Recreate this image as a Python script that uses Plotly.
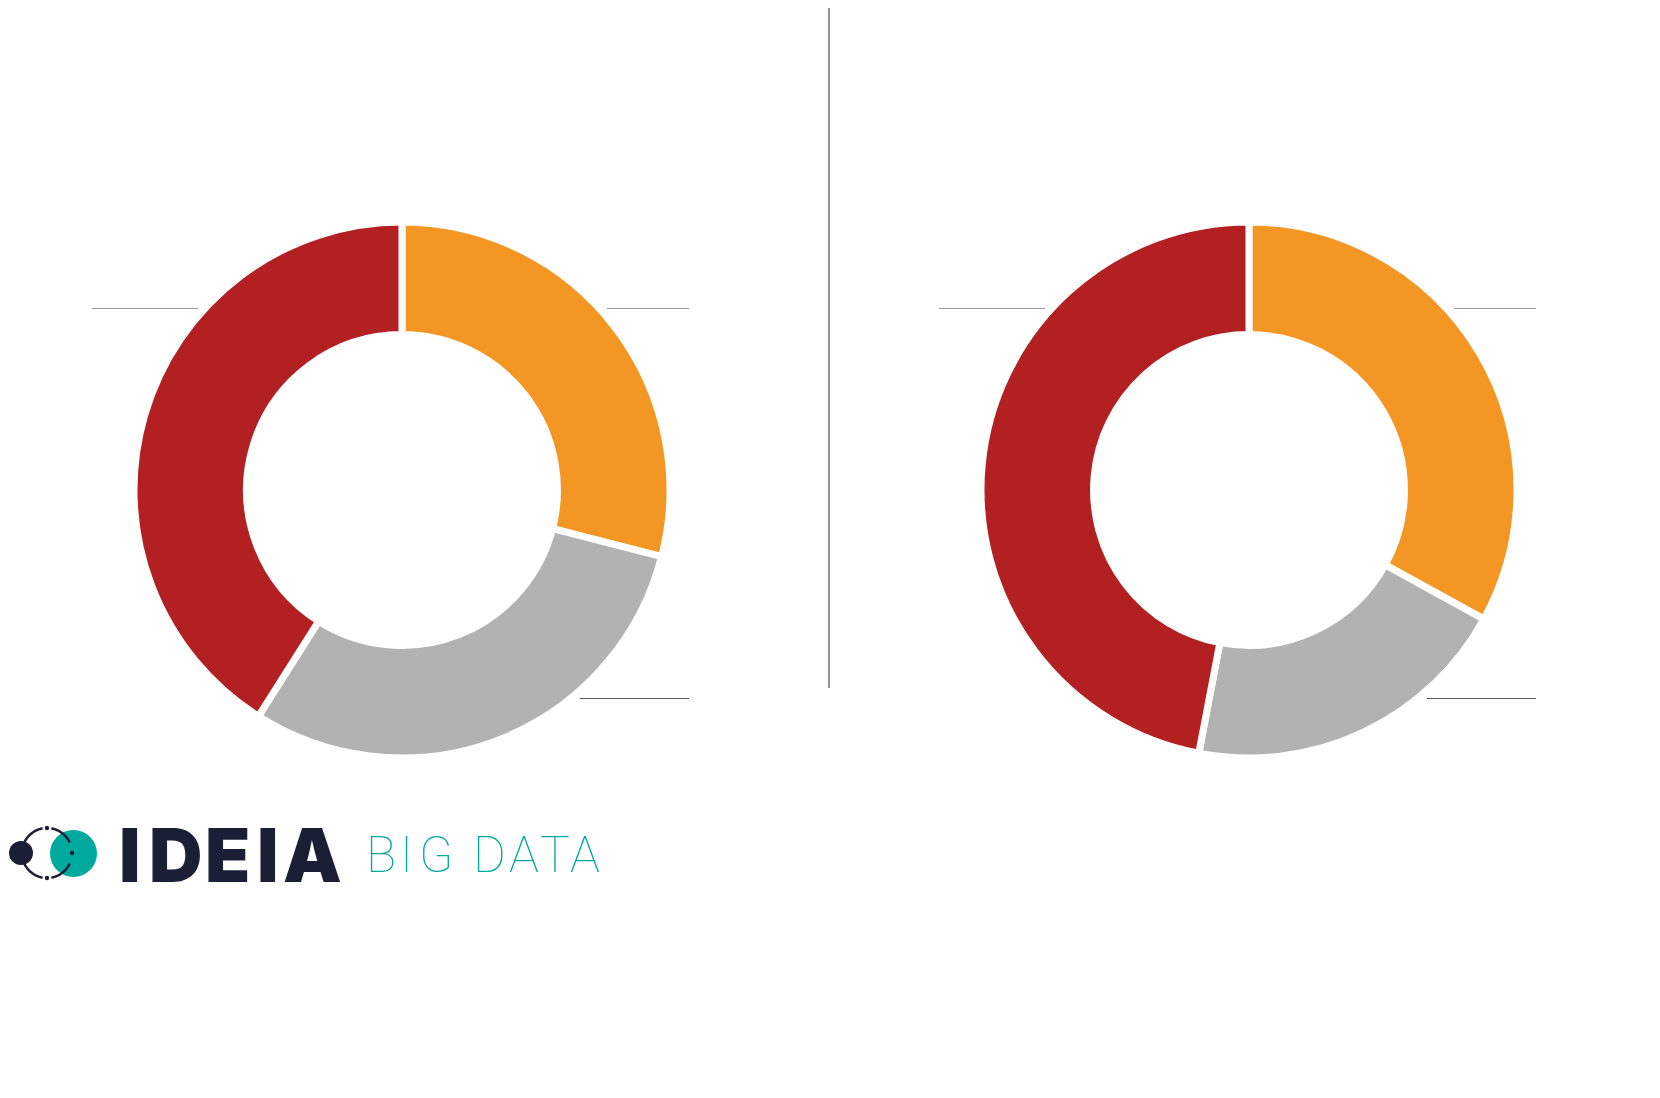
import plotly.graph_objects as go
import numpy as np

W, H = 1660, 1098
OFF = 8  # page body margin

categories = ["Laranja", "Cinza", "Vermelho"]
left_values = [29, 30, 41]
right_values = [33, 20, 47]
colors = ["#F39623", "#B2B2B2", "#B32021"]

def px(x):
    return (x - OFF) / W

def py(y):
    return 1 - (y - OFF) / H

R = 268
centers = [(402, 490), (1249, 490)]

fig = go.Figure()
for (cx, cy), vals in zip(centers, [left_values, right_values]):
    fig.add_trace(go.Pie(
        labels=categories, values=vals, hole=0.58, sort=False,
        direction="clockwise", rotation=0,
        marker=dict(colors=colors, line=dict(color="white", width=7)),
        textinfo="none", hoverinfo="label+percent", showlegend=False,
        domain=dict(x=[px(cx - R), px(cx + R)], y=[py(cy + R), py(cy - R)]),
    ))

shapes = []
def hline(x0, x1, y, color):
    shapes.append(dict(type="line", xref="paper", yref="paper",
                       x0=px(x0), x1=px(x1), y0=py(y), y1=py(y),
                       line=dict(color=color, width=1.2)))

for off in [0, 847]:
    hline(92 + off, 198 + off, 308.5, "#9a9a9a")
    hline(607 + off, 689 + off, 308.5, "#9a9a9a")
    hline(580 + off, 689 + off, 698.5, "#555555")

# vertical divider
shapes.append(dict(type="line", xref="paper", yref="paper",
                   x0=px(829), x1=px(829), y0=py(4), y1=py(688),
                   line=dict(color="#222222", width=1)))

# logo icon
shapes.append(dict(type="circle", xref="paper", yref="paper",
                   x0=px(50), x1=px(97), y0=py(877), y1=py(830),
                   fillcolor="#00A99D", line=dict(width=0)))
shapes.append(dict(type="circle", xref="paper", yref="paper",
                   x0=px(9), x1=px(33), y0=py(865), y1=py(841),
                   fillcolor="#1A1F36", line=dict(width=0)))

def arc_path(cx, cy, r, a0, a1, n=30):
    pts = []
    for t in np.linspace(np.radians(a0), np.radians(a1), n):
        x = cx + r * np.cos(t)
        y = cy - r * np.sin(t)
        pts.append((px(x), py(y)))
    return "M " + " L ".join(f"{a:.5f},{b:.5f}" for a, b in pts)

icx, icy, ir = 47, 853, 25
for a0, a1 in [(100, 155), (205, 260), (-80, -25), (25, 80)]:
    shapes.append(dict(type="path", xref="paper", yref="paper",
                       path=arc_path(icx, icy, ir, a0, a1),
                       line=dict(color="#1A1F36", width=2.5)))
for ang in [90, 270, 0]:
    x = icx + ir * np.cos(np.radians(ang))
    y = icy - ir * np.sin(np.radians(ang))
    shapes.append(dict(type="circle", xref="paper", yref="paper",
                       x0=px(x - 2.2), x1=px(x + 2.2), y0=py(y + 2.2), y1=py(y - 2.2),
                       fillcolor="#1A1F36", line=dict(width=0)))

annotations = []
brand_letters = ["I", "D", "E", "I", "A"]
brand_x = [130, 175, 227, 268, 312.5]
for ch, x in zip(brand_letters, brand_x):
    annotations.append(dict(text=ch, x=px(x), y=py(855), xref="paper", yref="paper",
                            xanchor="center", yanchor="middle", showarrow=False,
                            font=dict(family="Inter", size=74, color="#1A1F36", weight=900)))
sub_letters = ["B", "I", "G", "D", "A", "T", "A"]
sub_x = [381, 406.5, 435.6, 489, 524, 554.7, 585.4]
for ch, x in zip(sub_letters, sub_x):
    annotations.append(dict(text=ch, x=px(x), y=py(855), xref="paper", yref="paper",
                            xanchor="center", yanchor="middle", showarrow=False,
                            font=dict(family="Roboto", size=50, color="#00A99D", weight=100)))

fig.update_layout(width=W, height=H, margin=dict(l=0, r=0, t=0, b=0),
                  paper_bgcolor="white", plot_bgcolor="white",
                  shapes=shapes, annotations=annotations)

fig.write_html("out.html")
